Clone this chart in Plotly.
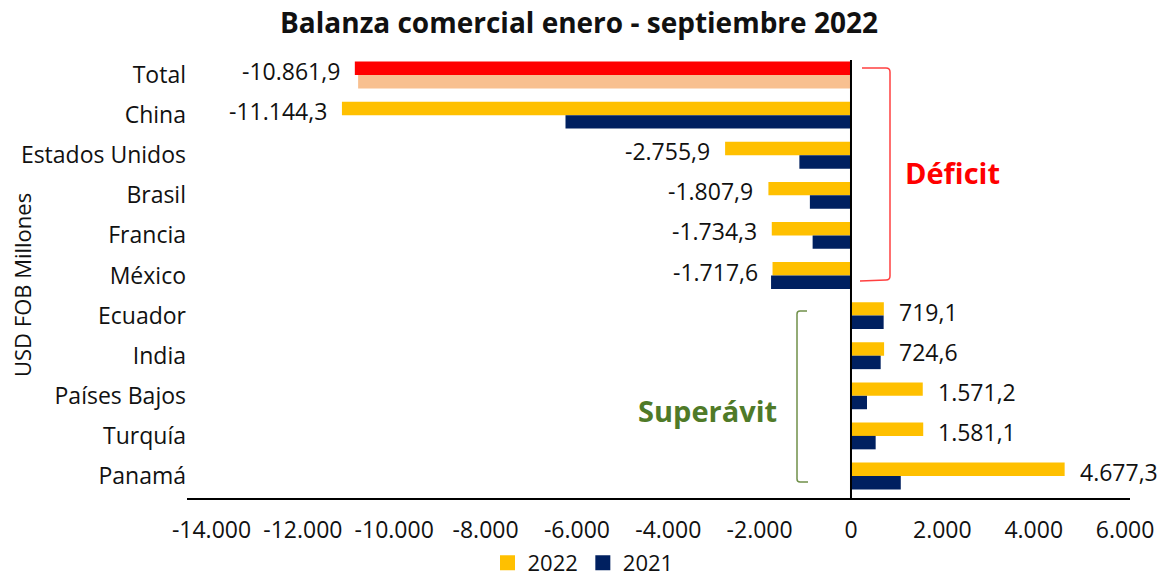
import plotly.graph_objects as go

categories = ["Total", "China", "Estados Unidos", "Brasil", "Francia", "México",
              "Ecuador", "India", "Países Bajos", "Turquía", "Panamá"]
values_2022 = [-10861.9, -11144.3, -2755.9, -1807.9, -1734.3, -1717.6,
               719.1, 724.6, 1571.2, 1581.1, 4677.3]
values_2021 = [-10790, -6250, -1130, -900, -840, -1750,
               715, 650, 350, 540, 1090]
tick_vals = [-14000, -12000, -10000, -8000, -6000, -4000, -2000, 0, 2000, 4000, 6000]


def fmt_es(v, dec):
    s = f"{abs(v):,.{dec}f}".replace(",", "X").replace(".", ",").replace("X", ".")
    return ("-" if v < 0 else "") + s


tick_text = [fmt_es(v, 0) for v in tick_vals]
labels_2022 = [fmt_es(v, 1) for v in values_2022]

YELLOW = "#FFC000"
NAVY = "#002060"
RED = "#FF0000"
PEACH = "#F8C090"
GREEN = "#4F7A28"
TXT = "#111111"

colors_2022 = [RED] + [YELLOW] * (len(categories) - 1)
colors_2021 = [PEACH] + [NAVY] * (len(categories) - 1)

FONT = "Open Sans"
FS = 23

fig = go.Figure()
fig.add_trace(go.Bar(
    y=categories, x=values_2022, orientation="h", name="2022",
    marker=dict(color=colors_2022, line=dict(width=0)), showlegend=False,
))
fig.add_trace(go.Bar(
    y=categories, x=values_2021, orientation="h", name="2021",
    marker=dict(color=colors_2021, line=dict(width=0)), showlegend=False,
))
# legend entries
fig.add_trace(go.Scatter(y=[None], x=[None], mode="markers", name="2022",
                         marker=dict(color=YELLOW, symbol="square", size=15)))
fig.add_trace(go.Scatter(y=[None], x=[None], mode="markers", name="2021",
                         marker=dict(color=NAVY, symbol="square", size=15)))

# the page body margin is removed below, so the figure sits at (0, 0)
OFF = 0
W, H = 1164, 577
# plot area in reference (screen) pixels
PL, PR, PT, PB = 187, 1130, 55, 498
L, T = PL - OFF, PT - OFF
R, B = W - (PR - OFF), H - (PB - OFF)
PW, PH = PR - PL, PB - PT


def px(x):
    return (x - PL) / PW


def py(y):
    return (PB - y) / PH


shapes = [
    # zero line
    dict(type="line", xref="x", yref="paper", x0=0, x1=0, y0=0, y1=py(60),
         line=dict(color="black", width=2)),
    # deficit bracket
    dict(type="path", xref="paper", yref="paper",
         path=f"M {px(862)} {py(68)} L {px(886)} {py(68)} Q {px(890)} {py(68)} {px(890)} {py(72)} "
              f"L {px(890)} {py(276)} Q {px(890)} {py(280)} {px(886)} {py(280)} L {px(860)} {py(281)}",
         line=dict(color="#FF4040", width=1.5)),
    # superavit bracket
    dict(type="path", xref="paper", yref="paper",
         path=f"M {px(807)} {py(311)} L {px(800)} {py(311)} Q {px(797)} {py(311)} {px(797)} {py(314)} "
              f"L {px(797)} {py(479)} Q {px(797)} {py(482)} {px(800)} {py(482)} L {px(808)} {py(482)}",
         line=dict(color="#70904A", width=1.5)),
]

annotations = [
    dict(text="<b>Déficit</b>", xref="paper", yref="paper", x=px(952), y=py(172),
         showarrow=False, font=dict(family=FONT, size=29, color=RED),
         xanchor="center", yanchor="middle"),
    dict(text="<b>Superávit</b>", xref="paper", yref="paper", x=px(707), y=py(410),
         showarrow=False, font=dict(family=FONT, size=29, color=GREEN),
         xanchor="center", yanchor="middle"),
    dict(text="USD FOB Millones", xref="paper", yref="paper", x=px(22), y=py(285),
         showarrow=False, textangle=-90, font=dict(family=FONT, size=22, color=TXT),
         xanchor="center", yanchor="middle"),
]

# data labels for 2022 values
for cat, v, lab in zip(categories, values_2022, labels_2022):
    annotations.append(dict(
        x=v, y=cat, xref="x", yref="y", text=lab, showarrow=False,
        xanchor="right" if v < 0 else "left", xshift=-13 if v < 0 else 13, yshift=4,
        yanchor="middle", font=dict(family=FONT, size=FS, color=TXT),
    ))

fig.update_layout(
    width=W, height=H,
    margin=dict(l=L, r=R, t=T, b=B, autoexpand=False),
    paper_bgcolor="white", plot_bgcolor="white",
    barmode="group", bargap=0.33, bargroupgap=0,
    title=dict(text="<b>Balanza comercial enero - septiembre 2022</b>",
               x=(579 - OFF) / W, xref="container", xanchor="center",
               y=1 - (23 - OFF) / H, yref="container", yanchor="middle",
               font=dict(family=FONT, size=28, color=TXT)),
    xaxis=dict(range=[-14536, 6108], tickvals=tick_vals, ticktext=tick_text,
               showgrid=False, zeroline=False, showline=True, linecolor="black",
               linewidth=2, ticks="", tickfont=dict(family=FONT, size=FS, color=TXT),
               ticklabelstandoff=10),
    yaxis=dict(autorange="reversed", showgrid=False, zeroline=False, showline=False,
               ticks="", tickfont=dict(family=FONT, size=FS, color=TXT),
               ticklabelstandoff=0),
    legend=dict(orientation="h", x=(583 - OFF) / W, y=1 - (563 - OFF) / H,
                xref="container", yref="container",
                xanchor="center", yanchor="middle",
                font=dict(family=FONT, size=22, color=TXT), traceorder="normal",
                itemwidth=30),
    shapes=shapes, annotations=annotations,
    font=dict(family=FONT),
)

fig.write_html(
    "out.html",
    config={"displayModeBar": False},
    post_script="document.body.style.margin='0';document.body.style.overflow='hidden';",
)
